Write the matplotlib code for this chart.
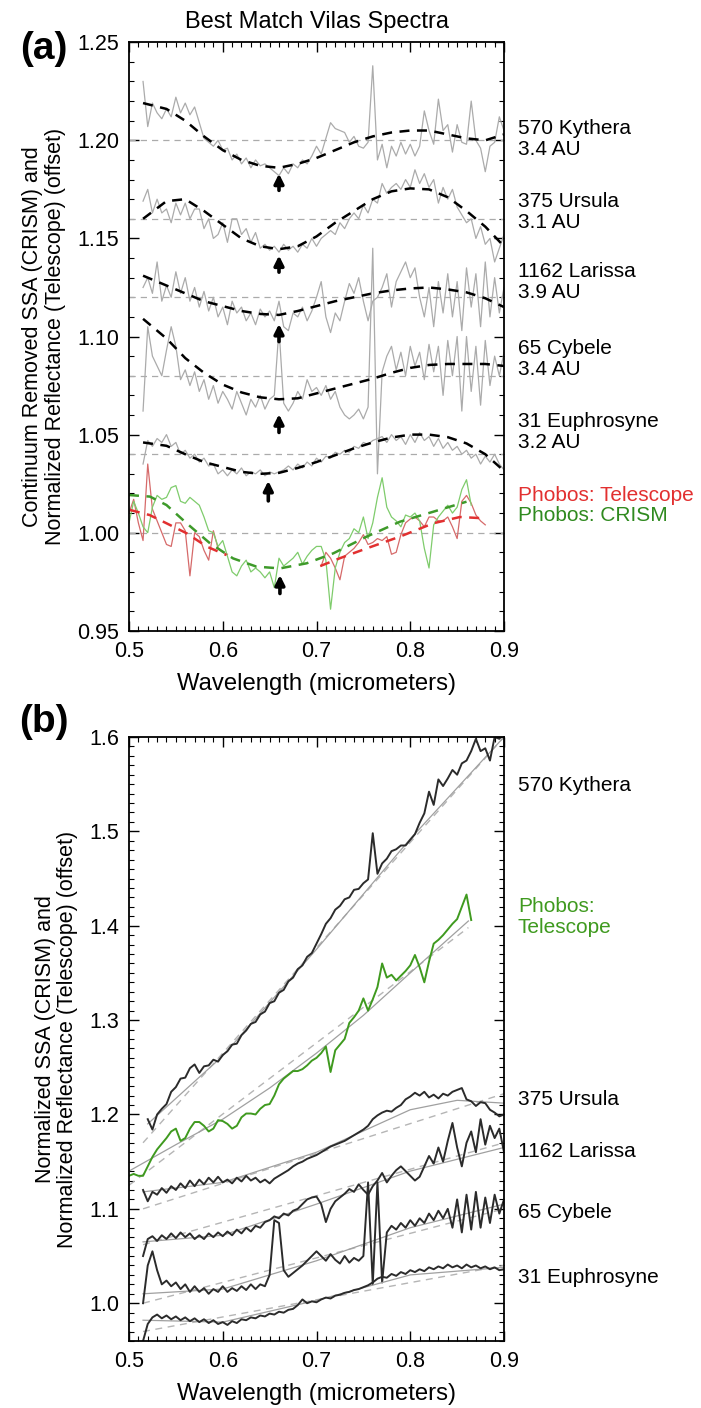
import matplotlib
matplotlib.use("Agg")
import matplotlib.pyplot as plt
from matplotlib.ticker import MultipleLocator, FormatStrFormatter
import numpy as np

plt.rcParams["font.family"] = ["Liberation Sans", "DejaVu Sans"]

STEP = 0.005  # spectra resampled every 5 nm

# ---- panel (a): continuum-removed spectra, offset ----
KYTHERA_A = [1.230, 1.207, 1.219, 1.214, 1.211, 1.216, 1.212, 1.222, 1.214, 1.219,
             1.213, 1.217, 1.209, 1.201, 1.199, 1.197, 1.200, 1.195, 1.196, 1.190,
             1.193, 1.188, 1.191, 1.186, 1.190, 1.187, 1.188, 1.186, 1.184, 1.182,
             1.186, 1.183, 1.188, 1.186, 1.190, 1.188, 1.192, 1.197, 1.193, 1.201,
             1.209, 1.206, 1.205, 1.204, 1.199, 1.202, 1.197, 1.196, 1.199, 1.238,
             1.190, 1.198, 1.186, 1.197, 1.192, 1.199, 1.193, 1.198, 1.192, 1.197,
             1.215, 1.205, 1.198, 1.221, 1.205, 1.208, 1.194, 1.208, 1.199, 1.198,
             1.220, 1.200, 1.196, 1.184, 1.197, 1.199, 1.212, 1.205]
URSULA_A = [1.169, 1.175, 1.163, 1.170, 1.163, 1.165, 1.158, 1.168, 1.162, 1.168,
            1.160, 1.165, 1.165, 1.155, 1.160, 1.150, 1.152, 1.158, 1.148, 1.160,
            1.160, 1.152, 1.155, 1.148, 1.153, 1.145, 1.147, 1.144, 1.146, 1.143,
            1.147, 1.144, 1.146, 1.143, 1.147, 1.145, 1.150, 1.146, 1.150, 1.152,
            1.154, 1.152, 1.158, 1.155, 1.160, 1.163, 1.160, 1.167, 1.163, 1.170,
            1.168, 1.178, 1.173, 1.176, 1.178, 1.175, 1.180, 1.176, 1.185, 1.178,
            1.183, 1.176, 1.180, 1.168, 1.176, 1.170, 1.175, 1.166, 1.162, 1.158,
            1.160, 1.150, 1.156, 1.147, 1.150, 1.138, 1.145, 1.152]
LARISSA_A = [1.125, 1.130, 1.122, 1.138, 1.118, 1.126, 1.120, 1.133, 1.122, 1.130,
             1.118, 1.125, 1.115, 1.123, 1.113, 1.120, 1.110, 1.115, 1.106, 1.118,
             1.112, 1.115, 1.108, 1.112, 1.106, 1.114, 1.110, 1.113, 1.108, 1.118,
             1.105, 1.103, 1.112, 1.110, 1.115, 1.108, 1.113, 1.120, 1.128, 1.110,
             1.102, 1.112, 1.108, 1.118, 1.127, 1.122, 1.130, 1.118, 1.108, 1.118,
             1.120, 1.125, 1.132, 1.115, 1.128, 1.133, 1.138, 1.130, 1.135, 1.120,
             1.110, 1.125, 1.105, 1.128, 1.112, 1.132, 1.110, 1.128, 1.103, 1.135,
             1.115, 1.132, 1.105, 1.138, 1.110, 1.130, 1.112, 1.125]
CYBELE_A = [1.062, 1.105, 1.090, 1.085, 1.080, 1.093, 1.105, 1.095, 1.078, 1.083,
            1.075, 1.082, 1.072, 1.078, 1.068, 1.075, 1.066, 1.072, 1.068, 1.063,
            1.072, 1.066, 1.060, 1.068, 1.064, 1.070, 1.063, 1.068, 1.070, 1.104,
            1.066, 1.062, 1.066, 1.072, 1.068, 1.078, 1.072, 1.074, 1.070, 1.075,
            1.068, 1.072, 1.064, 1.060, 1.058, 1.060, 1.063, 1.058, 1.064, 1.145,
            1.030, 1.082, 1.090, 1.095, 1.083, 1.092, 1.080, 1.095, 1.085, 1.092,
            1.078, 1.096, 1.082, 1.095, 1.070, 1.098, 1.080, 1.100, 1.062, 1.100,
            1.072, 1.095, 1.065, 1.098, 1.075, 1.090, 1.080, 1.092]
EUPHROSYNE_A = [1.035, 1.047, 1.044, 1.048, 1.046, 1.050, 1.044, 1.046, 1.040, 1.042,
                1.038, 1.040, 1.036, 1.038, 1.034, 1.035, 1.030, 1.032, 1.029, 1.032,
                1.030, 1.033, 1.029, 1.031, 1.030, 1.032, 1.029, 1.031, 1.030, 1.031,
                1.032, 1.034, 1.032, 1.035, 1.033, 1.036, 1.034, 1.038, 1.036, 1.039,
                1.038, 1.041, 1.040, 1.042, 1.041, 1.044, 1.043, 1.046, 1.045, 1.047,
                1.048, 1.049, 1.046, 1.050, 1.047, 1.049, 1.045, 1.050, 1.046, 1.051,
                1.047, 1.049, 1.044, 1.048, 1.043, 1.046, 1.042, 1.044, 1.040, 1.042,
                1.038, 1.040, 1.035, 1.039, 1.036, 1.040, 1.035, 1.032]

# band-fit curves (dashed black), sampled at FIT_WL
FIT_WL = [0.515, 0.54, 0.56, 0.58, 0.60, 0.62, 0.64, 0.66, 0.68, 0.70,
          0.72, 0.74, 0.76, 0.78, 0.80, 0.82, 0.84, 0.86, 0.88, 0.90]
KYTHERA_FIT = [1.219, 1.216, 1.210, 1.202, 1.195, 1.190, 1.187, 1.186, 1.188, 1.191,
               1.195, 1.199, 1.202, 1.204, 1.205, 1.205, 1.203, 1.201, 1.200, 1.203]
URSULA_FIT = [1.160, 1.169, 1.170, 1.164, 1.157, 1.150, 1.146, 1.1445, 1.146, 1.151,
              1.158, 1.164, 1.170, 1.174, 1.1755, 1.175, 1.171, 1.164, 1.156, 1.146]
LARISSA_FIT = [1.131, 1.126, 1.122, 1.118, 1.1155, 1.113, 1.1115, 1.111, 1.113, 1.1155,
               1.118, 1.120, 1.122, 1.1235, 1.1245, 1.125, 1.124, 1.1225, 1.1195, 1.115]
CYBELE_FIT = [1.109, 1.099, 1.089, 1.0815, 1.0755, 1.0715, 1.069, 1.068, 1.0685, 1.071,
              1.0735, 1.076, 1.0785, 1.0815, 1.084, 1.0855, 1.086, 1.086, 1.086, 1.085]
EUPHROSYNE_FIT = [1.046, 1.0443, 1.040, 1.036, 1.0335, 1.031, 1.030, 1.0305, 1.033, 1.036,
                  1.0395, 1.043, 1.046, 1.0485, 1.050, 1.050, 1.0487, 1.0455, 1.040, 1.0315]

OFFSETS_A = [1.20, 1.16, 1.12, 1.08, 1.04, 1.00]
NAMES_A = ["570 Kythera\n3.4 AU", "375 Ursula\n3.1 AU", "1162 Larissa\n3.9 AU",
           "65 Cybele\n3.4 AU", "31 Euphrosyne\n3.2 AU"]
LABEL_Y_A = [1.2008, 1.1635, 1.1278, 1.0885, 1.0513]

# Phobos, telescope (two segments) and CRISM
TEL_A1 = [1.010, 1.017, 1.005, 0.996, 1.035, 1.012, 1.006, 1.000, 0.994, 0.993, 1.005,
          1.005, 1.001, 0.978, 1.000, 0.998, 0.991, 0.986, 1.001, 0.992, 0.990, 0.989]
TEL_A2 = [0.983, 0.990, 0.987, 0.982, 0.976, 0.988, 0.990, 0.992, 0.995, 0.999,
          0.994, 0.995, 0.997, 0.996, 0.998, 0.989, 0.990, 0.999, 1.005, 1.007,
          1.008, 1.006, 1.003, 1.008, 1.008, 1.006, 1.006, 1.008, 1.003, 0.997,
          1.016, 1.019, 1.015, 1.009, 1.006, 1.004]
TEL_FIT1_WL = [0.501, 0.522, 0.540, 0.5615, 0.583, 0.604]
TEL_FIT1 = [1.0116, 1.009, 1.0048, 0.9997, 0.9929, 0.9886]
TEL_FIT2_WL = [0.704, 0.725, 0.7535, 0.789, 0.8246, 0.853, 0.880]
TEL_FIT2 = [0.983, 0.987, 0.992, 0.998, 1.0048, 1.008, 1.0073]
CRISM_A = [1.005, 1.016, 1.010, 1.003, 1.000, 1.013, 1.019, 1.017, 1.018, 1.023,
           1.024, 1.016, 1.015, 1.018, 1.016, 1.014, 1.008, 1.001, 1.000, 0.993,
           0.996, 0.988, 0.980, 0.978, 0.983, 0.986, 0.980, 0.982, 0.980, 0.977,
           0.980, 0.972, 0.987, 0.983, 0.985, 0.987, 0.990, 0.984, 0.988, 0.991,
           0.993, 0.993, 0.986, 0.961, 0.982, 0.990, 0.995, 0.997, 1.002, 1.000,
           1.008, 0.997, 1.005, 1.018, 1.028, 1.013, 1.008, 1.006, 1.003, 1.009,
           1.008, 1.010, 1.006, 0.992, 0.982, 1.004, 1.008, 1.011, 1.014, 1.010,
           1.013, 1.022, 1.027, 1.014]
CRISM_FIT_WL = [0.500, 0.5224, 0.540, 0.5615, 0.5864, 0.611, 0.636, 0.661, 0.6895,
                0.718, 0.7535, 0.789, 0.8246, 0.860]
CRISM_FIT = [1.0192, 1.0184, 1.0141, 1.0048, 0.9946, 0.9869, 0.9827, 0.9818, 0.9844,
             0.9895, 0.998, 1.0056, 1.0107, 1.0158]

# band centres marked with arrows (wavelength, arrow tip, arrow tail)
ARROW_WL = [0.660, 0.660, 0.660, 0.660, 0.6486, 0.661]
ARROW_TIP = [1.183, 1.1413, 1.1064, 1.0604, 1.0264, 0.9784]
ARROW_TAIL = [1.1745, 1.1328, 1.0974, 1.0511, 1.0162, 0.969]

# ---- panel (b): normalized spectra, offset ----
KYTHERA_B = [1.195, 1.184, 1.200, 1.206, 1.211, 1.224, 1.229, 1.238, 1.239, 1.249,
             1.253, 1.244, 1.251, 1.252, 1.258, 1.256, 1.263, 1.267, 1.274, 1.275,
             1.284, 1.289, 1.296, 1.298, 1.306, 1.309, 1.318, 1.320, 1.329, 1.332,
             1.341, 1.345, 1.354, 1.358, 1.367, 1.371, 1.381, 1.391, 1.402, 1.408,
             1.417, 1.421, 1.428, 1.430, 1.438, 1.439, 1.445, 1.449, 1.498, 1.455,
             1.466, 1.471, 1.479, 1.481, 1.485, 1.485, 1.491, 1.497, 1.509, 1.519,
             1.542, 1.528, 1.555, 1.548, 1.556, 1.565, 1.560, 1.572, 1.575, 1.585,
             1.598, 1.585, 1.588, 1.575, 1.600, 1.598, 1.605]
PHOBOS_B = [1.135, 1.137, 1.135, 1.135, 1.145, 1.155, 1.163, 1.169, 1.175, 1.182,
            1.185, 1.172, 1.175, 1.185, 1.192, 1.192, 1.188, 1.182, 1.185, 1.194,
            1.193, 1.190, 1.185, 1.188, 1.197, 1.201, 1.201, 1.200, 1.206, 1.210,
            1.211, 1.220, 1.232, 1.238, 1.242, 1.246, 1.246, 1.248, 1.252, 1.257,
            1.260, 1.265, 1.272, 1.245, 1.268, 1.274, 1.280, 1.297, 1.303, 1.310,
            1.323, 1.310, 1.322, 1.335, 1.360, 1.345, 1.348, 1.342, 1.347, 1.352,
            1.358, 1.369, 1.356, 1.340, 1.362, 1.381, 1.385, 1.390, 1.396, 1.402,
            1.407, 1.420, 1.433, 1.406]
URSULA_B = [1.120, 1.108, 1.118, 1.115, 1.122, 1.117, 1.124, 1.120, 1.127, 1.122,
            1.130, 1.124, 1.131, 1.126, 1.133, 1.128, 1.134, 1.128, 1.131, 1.127,
            1.133, 1.129, 1.135, 1.130, 1.133, 1.128, 1.131, 1.127, 1.132, 1.135,
            1.138, 1.141, 1.145, 1.148, 1.150, 1.153, 1.155, 1.157, 1.160, 1.163,
            1.166, 1.168, 1.170, 1.172, 1.175, 1.178, 1.181, 1.184, 1.188, 1.195,
            1.199, 1.202, 1.204, 1.203, 1.207, 1.210, 1.216, 1.219, 1.223, 1.220,
            1.224, 1.218, 1.221, 1.217, 1.222, 1.220, 1.224, 1.226, 1.228, 1.216,
            1.214, 1.209, 1.213, 1.212, 1.205, 1.202, 1.198, 1.200]
LARISSA_B = [1.050, 1.068, 1.071, 1.066, 1.072, 1.068, 1.074, 1.069, 1.075, 1.070,
             1.074, 1.068, 1.072, 1.068, 1.074, 1.070, 1.075, 1.071, 1.076, 1.072,
             1.078, 1.074, 1.080, 1.076, 1.082, 1.080, 1.086, 1.088, 1.092, 1.090,
             1.095, 1.093, 1.098, 1.100, 1.105, 1.110, 1.112, 1.113, 1.105, 1.086,
             1.100, 1.108, 1.112, 1.116, 1.121, 1.118, 1.126, 1.120, 1.115, 1.124,
             1.130, 1.138, 1.128, 1.135, 1.141, 1.145, 1.140, 1.135, 1.130, 1.134,
             1.145, 1.156, 1.148, 1.165, 1.150, 1.172, 1.191, 1.165, 1.145, 1.170,
             1.182, 1.160, 1.195, 1.168, 1.188, 1.175, 1.185, 1.160]
CYBELE_B = [1.000, 1.040, 1.055, 1.035, 1.020, 1.024, 1.018, 1.022, 1.015, 1.020,
            1.012, 1.018, 1.012, 1.016, 1.010, 1.015, 1.012, 1.018, 1.012, 1.016,
            1.013, 1.018, 1.014, 1.020, 1.015, 1.020, 1.018, 1.030, 1.088, 1.085,
            1.035, 1.028, 1.032, 1.036, 1.040, 1.045, 1.050, 1.055, 1.050, 1.045,
            1.052, 1.046, 1.042, 1.050, 1.043, 1.048, 1.045, 1.050, 1.128, 1.020,
            1.128, 1.022, 1.075, 1.082, 1.078, 1.085, 1.080, 1.088, 1.082, 1.090,
            1.085, 1.095, 1.088, 1.098, 1.090, 1.100, 1.080, 1.110, 1.075, 1.115,
            1.078, 1.118, 1.080, 1.112, 1.085, 1.115, 1.095, 1.110]
EUPHROSYNE_B = [0.960, 0.978, 0.985, 0.988, 0.984, 0.987, 0.983, 0.986, 0.982, 0.985,
                0.981, 0.984, 0.980, 0.983, 0.979, 0.982, 0.978, 0.980, 0.977, 0.981,
                0.979, 0.983, 0.982, 0.985, 0.984, 0.987, 0.986, 0.989, 0.988, 0.991,
                0.990, 0.993, 0.994, 0.998, 1.004, 1.000, 1.002, 1.001, 1.004, 1.006,
                1.005, 1.008, 1.009, 1.011, 1.012, 1.014, 1.015, 1.017, 1.019, 1.022,
                1.026, 1.028, 1.027, 1.031, 1.029, 1.033, 1.031, 1.035, 1.033, 1.036,
                1.034, 1.038, 1.036, 1.039, 1.037, 1.041, 1.038, 1.040, 1.037, 1.041,
                1.038, 1.040, 1.037, 1.039, 1.036, 1.038, 1.035, 1.036]

# smooth fits (thin solid) and straight continua (dashed), panel (b)
SMOOTH_B = {
    "kythera": ([0.52, 0.60, 0.70, 0.80, 0.90], [1.190, 1.262, 1.375, 1.492, 1.600]),
    "phobos": ([0.50, 0.55, 0.60, 0.65, 0.70, 0.75, 0.80, 0.862],
               [1.140, 1.168, 1.195, 1.228, 1.265, 1.305, 1.350, 1.405]),
    "ursula": ([0.515, 0.60, 0.70, 0.80, 0.85, 0.90], [1.118, 1.128, 1.160, 1.205, 1.215, 1.212]),
    "larissa": ([0.515, 0.60, 0.70, 0.80, 0.90], [1.065, 1.072, 1.105, 1.140, 1.165]),
    "cybele": ([0.515, 0.60, 0.70, 0.80, 0.90], [1.010, 1.015, 1.045, 1.080, 1.105]),
    "euphrosyne": ([0.515, 0.60, 0.70, 0.80, 0.90], [0.982, 0.980, 1.003, 1.030, 1.038]),
}
CONT_B = {
    "kythera": ([0.515, 0.90], [1.170, 1.600]),
    "phobos": ([0.50, 0.862], [1.125, 1.398]),
    "ursula": ([0.515, 0.90], [1.100, 1.222]),
    "larissa": ([0.515, 0.90], [1.062, 1.170]),
    "cybele": ([0.515, 0.90], [1.000, 1.100]),
    "euphrosyne": ([0.515, 0.90], [0.970, 1.040]),
}
NAMES_B = ["570 Kythera", "375 Ursula", "1162 Larissa", "65 Cybele", "31 Euphrosyne"]
LABEL_Y_B = [1.549, 1.216, 1.161, 1.096, 1.027]

GREY = "#ababab"
DARK = "#2b2b2b"
RED = "#e23030"
GREEN_A = "#7fcc6c"
GREEN_B = "#3f9a1f"
FIT_DASH = (0, (4, 3))
LABEL_FS = 15


def wl(start, vals):
    return start + STEP * np.arange(len(vals))


def style(ax, ylo, yhi, ymaj, yfmt):
    ax.set_xlim(0.5, 0.9)
    ax.set_ylim(ylo, yhi)
    ax.xaxis.set_major_locator(MultipleLocator(0.1))
    ax.xaxis.set_minor_locator(MultipleLocator(0.01))
    ax.yaxis.set_major_locator(MultipleLocator(ymaj))
    ax.yaxis.set_minor_locator(MultipleLocator(0.01))
    ax.xaxis.set_major_formatter(FormatStrFormatter("%.1f"))
    ax.yaxis.set_major_formatter(FormatStrFormatter(yfmt))
    ax.tick_params(which="both", direction="in", top=True, right=True, labelsize=15.5)
    ax.tick_params(which="major", length=7, width=1.0, pad=7)
    ax.tick_params(which="minor", length=3.5, width=0.8)
    for s in ax.spines.values():
        s.set_linewidth(1.3)


fig = plt.figure(figsize=(7.01, 14.08), dpi=100)
ax_a = fig.add_axes([0.184, 0.552, 0.535, 0.418])
ax_b = fig.add_axes([0.184, 0.0476, 0.535, 0.429])

# panel (a)
for y0 in OFFSETS_A:
    ax_a.axhline(y0, color=GREY, lw=0.9, ls=(0, (5, 4)))
for spec, fit in [(KYTHERA_A, KYTHERA_FIT), (URSULA_A, URSULA_FIT), (LARISSA_A, LARISSA_FIT),
                  (CYBELE_A, CYBELE_FIT), (EUPHROSYNE_A, EUPHROSYNE_FIT)]:
    ax_a.plot(wl(0.515, spec), spec, color=GREY, lw=0.9)
    ax_a.plot(FIT_WL, fit, color="k", lw=1.8, ls=FIT_DASH)
ax_a.plot(wl(0.500, TEL_A1), TEL_A1, color="#d66a6a", lw=0.9)
ax_a.plot(wl(0.705, TEL_A2), TEL_A2, color="#d66a6a", lw=0.9)
ax_a.plot(wl(0.500, CRISM_A), CRISM_A, color=GREEN_A, lw=0.9)
ax_a.plot(CRISM_FIT_WL, CRISM_FIT, color="#3e9a2a", lw=1.8, ls=FIT_DASH)
ax_a.plot(TEL_FIT1_WL, TEL_FIT1, color=RED, lw=1.8, ls=FIT_DASH)
ax_a.plot(TEL_FIT2_WL, TEL_FIT2, color=RED, lw=1.8, ls=FIT_DASH)
for x, tip, tail in zip(ARROW_WL, ARROW_TIP, ARROW_TAIL):
    ax_a.annotate("", xy=(x, tip), xytext=(x, tail),
                  arrowprops=dict(arrowstyle="-|>", color="k", lw=2.6, mutation_scale=14,
                                  shrinkA=0, shrinkB=0))
style(ax_a, 0.95, 1.25, 0.05, "%.2f")
ytr = ax_a.get_yaxis_transform()
for name, y in zip(NAMES_A, LABEL_Y_A):
    ax_a.text(1.037, y, name, transform=ytr, fontsize=LABEL_FS, va="center", ha="left",
              linespacing=1.12)
ax_a.text(1.037, 1.0189, "Phobos: Telescope", transform=ytr, fontsize=LABEL_FS, color=RED,
          va="center")
ax_a.text(1.037, 1.0087, "Phobos: CRISM", transform=ytr, fontsize=LABEL_FS, color="#2f8a1f",
          va="center")
ax_a.set_xlabel("Wavelength (micrometers)", fontsize=17.2, labelpad=8)
ax_a.set_ylabel("Continuum Removed SSA (CRISM) and\nNormalized Reflectance (Telescope) (offset)",
                fontsize=15.5, labelpad=8, linespacing=1.1)
ax_a.set_title("Best Match Vilas Spectra", fontsize=17, pad=10)

# panel (b)
order = [("kythera", KYTHERA_B, 0.520, DARK), ("phobos", PHOBOS_B, 0.500, GREEN_B),
         ("ursula", URSULA_B, 0.515, DARK), ("larissa", LARISSA_B, 0.515, DARK),
         ("cybele", CYBELE_B, 0.515, DARK), ("euphrosyne", EUPHROSYNE_B, 0.515, DARK)]
for key, spec, start, col in order:
    cx, cy = CONT_B[key]
    ax_b.plot(cx, cy, color="#b5b5b5", lw=1.0, ls=(0, (5, 4)))
    sx, sy = SMOOTH_B[key]
    ax_b.plot(sx, sy, color="#a0a0a0", lw=0.9)
    ax_b.plot(wl(start, spec), spec, color=col, lw=1.4)
style(ax_b, 0.96, 1.6, 0.1, "%.1f")
ytr = ax_b.get_yaxis_transform()
for name, y in zip(NAMES_B, LABEL_Y_B):
    ax_b.text(1.037, y, name, transform=ytr, fontsize=LABEL_FS, va="center")
ax_b.text(1.037, 1.409, "Phobos:\nTelescope", transform=ytr, fontsize=LABEL_FS, color=GREEN_B,
          va="center", linespacing=1.12)
ax_b.set_xlabel("Wavelength (micrometers)", fontsize=17.2, labelpad=8)
ax_b.set_ylabel("Normalized SSA (CRISM) and\nNormalized Reflectance (Telescope) (offset)",
                fontsize=15.5, labelpad=8, linespacing=1.1)

fig.text(0.063, 0.965, "(a)", fontsize=28, fontweight="bold", ha="center", va="center")
fig.text(0.063, 0.487, "(b)", fontsize=28, fontweight="bold", ha="center", va="center")

fig.savefig("out.png", dpi=100)
